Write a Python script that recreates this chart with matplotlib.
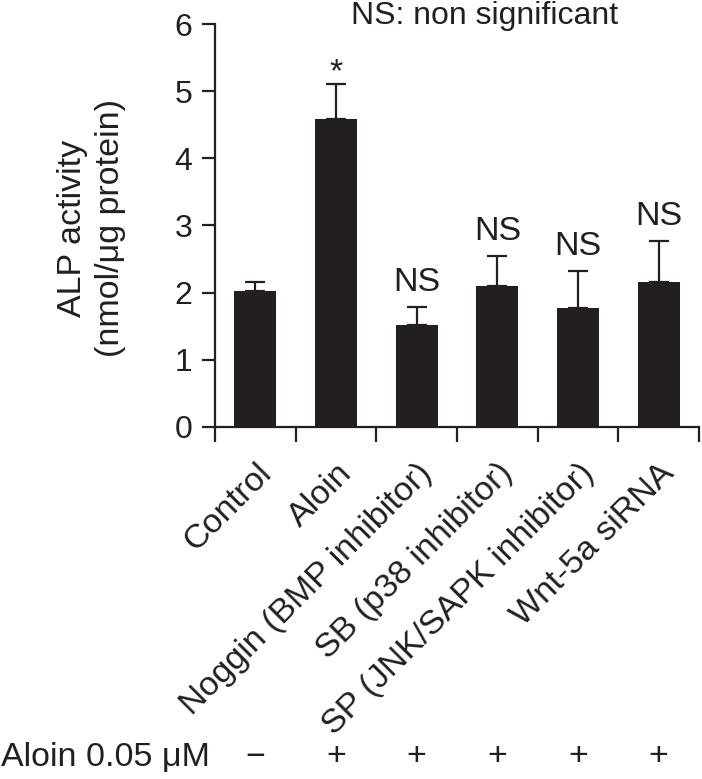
import matplotlib
matplotlib.use("Agg")
import matplotlib.pyplot as plt
from matplotlib.transforms import blended_transform_factory
import numpy as np

plt.rcParams['font.family'] = ['Liberation Sans', 'DejaVu Sans']

categories = ["Control", "Aloin", "Noggin (BMP inhibitor)", "SB (p38 inhibitor)",
              "SP (JNK/SAPK inhibitor)", "Wnt-5a siRNA"]
values = [2.02, 4.58, 1.52, 2.10, 1.77, 2.16]
errors = [0.14, 0.53, 0.26, 0.45, 0.55, 0.61]
annotations = ["", "*", "NS", "NS", "NS", "NS"]
aloin_signs = ["\u2212", "+", "+", "+", "+", "+"]
yticks = [0, 1, 2, 3, 4, 5, 6]

W, H = 702, 779
fig = plt.figure(figsize=(W / 100, H / 100), dpi=100)
ax = fig.add_axes([215 / W, 1 - 427 / H, (699 - 215) / W, (427 - 24) / H])

color = "#231f20"
x = np.arange(len(categories))
ax.bar(x, values, width=0.52, color=color, zorder=2)
ax.errorbar(x, values, yerr=[np.zeros(len(values)), errors], fmt="none",
            ecolor=color, elinewidth=1.6, capsize=7, capthick=1.6, zorder=1)

fs = 23
fs_big = 24.5
for xi, v, e, a in zip(x, values, errors, annotations):
    if not a:
        continue
    off = 11.5 if a == "NS" else 2
    ax.annotate(a, (xi, v + e), xytext=(0, off), textcoords="offset points",
                ha="center", va="baseline", fontsize=fs_big, color=color)

ax.set_xlim(-0.5, len(categories) - 0.5)
ax.set_ylim(0, 6)
ax.set_yticks(yticks)
ax.set_yticklabels([str(t) for t in yticks], fontsize=fs, color=color)
ax.set_xticks(np.arange(len(categories) + 1) - 0.5)
ax.set_xticklabels([])
ax.set_xticks(x, minor=True)
ax.set_xticklabels(categories, minor=True, rotation=45, ha="right",
                   rotation_mode="anchor", fontsize=fs_big, color=color)
ax.tick_params(axis="x", which="minor", length=0, pad=22)
ax.tick_params(axis="x", which="major", length=11, width=1.6, direction="out", color=color)
ax.tick_params(axis="y", length=9.5, width=1.6, direction="out", color=color, pad=7)

for s in ["top", "right"]:
    ax.spines[s].set_visible(False)
for s in ["left", "bottom"]:
    ax.spines[s].set_linewidth(1.6)
    ax.spines[s].set_color(color)

ax.set_ylabel("ALP activity\n(nmol/\u03bcg protein)", fontsize=fs_big, color=color,
              linespacing=1.3, va="center", ha="center")
ax.yaxis.set_label_coords((91.5 - 215) / 484, (427 - 228) / 403)

fig.text(485 / W, 1 - 16 / H, "NS: non significant", ha="center", va="center",
         fontsize=fs, color=color)

trans = blended_transform_factory(ax.transData, fig.transFigure)
fig.text(1 / W, 1 - 757 / H, "Aloin 0.05 \u03bcM", ha="left", va="center",
         fontsize=fs_big, color=color)
for xi, s in zip(x, aloin_signs):
    ax.text(xi, 1 - 757 / H, s, transform=trans, ha="center", va="center",
            fontsize=fs_big, color=color)

fig.savefig("out.png", dpi=100)
